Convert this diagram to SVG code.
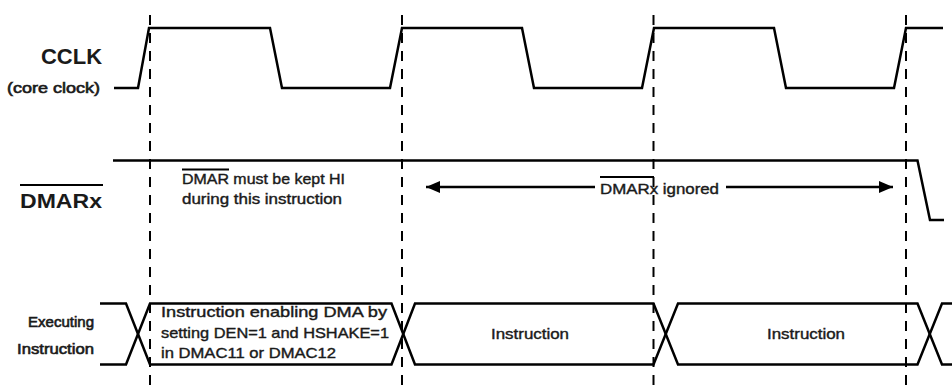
<svg xmlns="http://www.w3.org/2000/svg" width="952" height="387" viewBox="0 0 952 387">
<defs>
<style>
.wave{fill:none;stroke:#000;stroke-width:2.5;stroke-linejoin:miter}
.guide{fill:none;stroke:#000;stroke-width:2;stroke-dasharray:10 8}
.lbl{font-family:"Liberation Sans",Arial,sans-serif;font-weight:bold;fill:#1a1a1a}
.txt{font-family:"Liberation Sans",Arial,sans-serif;font-size:15px;fill:#1a1a1a;stroke:#1a1a1a;stroke-width:0.4}
.side{font-family:"Liberation Sans",Arial,sans-serif;font-size:15.5px;fill:#1a1a1a;stroke:#1a1a1a;stroke-width:0.65}
.bar{stroke:#000;stroke-width:2}
</style>
<marker id="ah" viewBox="0 0 14 12" refX="14" refY="6" markerWidth="14" markerHeight="12" markerUnits="userSpaceOnUse" orient="auto-start-reverse">
<path d="M0,0 L14,6 L0,12 Z" fill="#000"/>
</marker>
</defs>
<rect width="952" height="387" fill="#fff"/>

<g id="guides">
<line class="guide" x1="150" y1="15" x2="150" y2="387"/>
<line class="guide" x1="402" y1="15" x2="402" y2="387"/>
<line class="guide" x1="653.5" y1="15" x2="653.5" y2="387"/>
<line class="guide" x1="906" y1="15" x2="906" y2="387"/>
</g>

<g id="cclk">
<text class="lbl" x="41" y="64" font-size="22" textLength="61" lengthAdjust="spacingAndGlyphs">CCLK</text>
<text class="side" x="7" y="93" textLength="93" lengthAdjust="spacingAndGlyphs">(core clock)</text>
<polyline class="wave" points="114,88 138,88 149,28 270,28 282,88 390,88 402,28 522,28 534,88 642,88 654,28 774,28 786,88 894,88 906,28 943,28"/>
</g>

<g id="dmarx">
<text class="lbl" x="20" y="208" font-size="21" textLength="82" lengthAdjust="spacingAndGlyphs">DMARx</text>
<line class="bar" x1="20" y1="185" x2="103" y2="185" stroke-width="2.5"/>
<polyline class="wave" points="113,160.5 917.5,160.5 930,220 944,220"/>
<text class="txt" x="182" y="184" textLength="163" lengthAdjust="spacingAndGlyphs">DMAR must be kept HI</text>
<line class="bar" x1="182" y1="169.5" x2="229" y2="169.5"/>
<text class="txt" x="182" y="204" textLength="160" lengthAdjust="spacingAndGlyphs">during this instruction</text>
</g>

<g id="connectors">
<line class="wave" x1="426" y1="187" x2="595" y2="187" marker-start="url(#ah)"/>
<line class="wave" x1="726" y1="187" x2="893" y2="187" marker-end="url(#ah)"/>
</g>

<g id="ignored-label">
<text class="txt" x="600" y="194" textLength="119" lengthAdjust="spacingAndGlyphs">DMARx ignored</text>
<line class="bar" x1="600" y1="177" x2="654" y2="177"/>
</g>

<g id="executing">
<text class="side" x="94" y="327" text-anchor="end" textLength="66" lengthAdjust="spacingAndGlyphs">Executing</text>
<text class="side" x="94" y="354" text-anchor="end" textLength="77" lengthAdjust="spacingAndGlyphs">Instruction</text>
<path class="wave" d="M100,303.5 H126 L150,364.5 H391.5 L415,303.5 H653.5 L678,364.5 H917.5 L942,303.5 H952"/>
<path class="wave" d="M100,364.5 H126 L150,303.5 H391.5 L415,364.5 H653.5 L678,303.5 H917.5 L942,364.5 H952"/>
</g>

<g id="instr1">
<text class="txt" x="161" y="317" textLength="226" lengthAdjust="spacingAndGlyphs">Instruction enabling DMA by</text>
<text class="txt" x="161" y="337.5" textLength="228" lengthAdjust="spacingAndGlyphs">setting DEN=1 and HSHAKE=1</text>
<text class="txt" x="161" y="358" textLength="175" lengthAdjust="spacingAndGlyphs">in DMAC11 or DMAC12</text>
</g>
<g id="instr2">
<text class="txt" x="491" y="339" textLength="78" lengthAdjust="spacingAndGlyphs">Instruction</text>
</g>
<g id="instr3">
<text class="txt" x="767" y="339" textLength="78" lengthAdjust="spacingAndGlyphs">Instruction</text>
</g>
</svg>
